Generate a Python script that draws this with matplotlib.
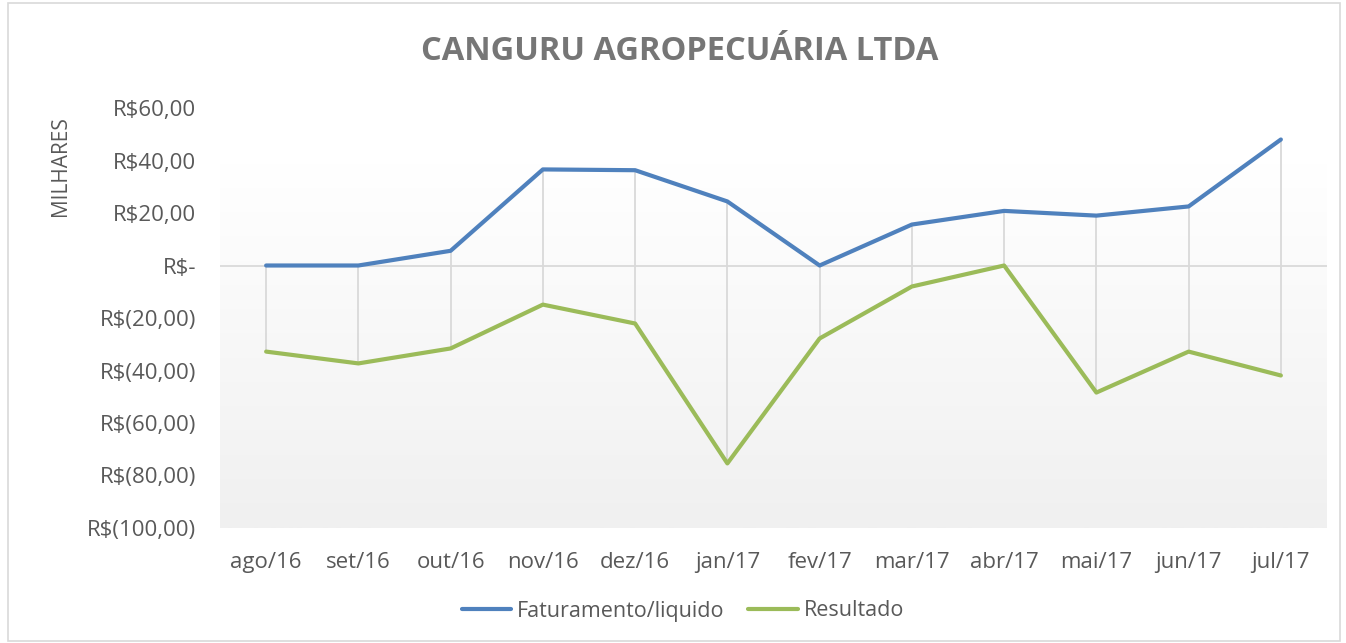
import numpy as np
import matplotlib.pyplot as plt
from matplotlib.colors import LinearSegmentedColormap
from matplotlib.patches import Rectangle

# Dados (em milhares de R$)
meses = ["ago/16", "set/16", "out/16", "nov/16", "dez/16", "jan/17",
         "fev/17", "mar/17", "abr/17", "mai/17", "jun/17", "jul/17"]
faturamento = [0, 0, 5.6, 36.6, 36.3, 24.4, 0, 15.6, 20.8, 19.0, 22.5, 48.0]
resultado = [-32.8, -37.3, -31.6, -14.9, -22.1, -75.4, -27.8, -8.0, 0, -48.4, -32.8, -41.9]

y_ticks = [60, 40, 20, 0, -20, -40, -60, -80, -100]

cinza_texto = "#595959"
plt.rcParams["font.family"] = ["Open Sans", "DejaVu Sans"]

fig = plt.figure(figsize=(13.46, 6.43), dpi=100)
ax = fig.add_axes([220 / 1346, 1 - 528 / 643, 1107 / 1346, 420 / 643])

x = np.arange(len(meses))

# fundo com degradê
cmap = LinearSegmentedColormap.from_list("fundo", ["#ffffff", "#f0f0f0"])
grad = np.linspace(0, 1, 256).reshape(-1, 1)
ax.imshow(grad, cmap=cmap, aspect="auto", extent=[-0.5, 11.5, -100, 39], zorder=0,
          vmin=0, vmax=1, origin="upper")

# linha do zero
ax.axhline(0, color="#d9d9d9", lw=1.3, zorder=1)

# linhas de ligação (máx/mín)
ax.vlines(x, resultado, faturamento, color="#d9d9d9", lw=1.3, zorder=1)

ax.plot(x, faturamento, color="#4f81bd", lw=3.0, label="Faturamento/liquido",
        solid_capstyle="round", solid_joinstyle="round", zorder=3)
ax.plot(x, resultado, color="#9bbb59", lw=3.0, label="Resultado",
        solid_capstyle="round", solid_joinstyle="round", zorder=3)

ax.set_xlim(-0.5, 11.5)
ax.set_ylim(-100, 60)
ax.set_xticks(x)
ax.set_xticklabels(meses)
ax.set_yticks(y_ticks)


def fmt(v):
    if v == 0:
        return "R$-"
    if v < 0:
        return "R$(%d,00)" % abs(v)
    return "R$%d,00" % v


ax.set_yticklabels([fmt(v) for v in y_ticks])
ax.tick_params(axis="both", length=0, labelsize=16, colors=cinza_texto)
ax.tick_params(axis="x", pad=17)
ax.tick_params(axis="y", pad=17)
for s in ax.spines.values():
    s.set_visible(False)

fig.text(60 / 1346, 1 - 166 / 643, "MILHARES", rotation=90, ha="center", va="center",
         fontsize=15, color=cinza_texto)

fig.text(680 / 1346, 1 - 52 / 643, "CANGURU AGROPECUÁRIA LTDA", ha="center", va="center",
         fontsize=23.5, fontweight="bold", color="#767676")

leg = ax.legend(loc="center", bbox_to_anchor=((683 - 220) / 1107, (528 - 611) / 420), ncol=2,
                frameon=False, fontsize=15.5, handlelength=2.3, handletextpad=0.28,
                columnspacing=1.1)
for t in leg.get_texts():
    t.set_color(cinza_texto)

# borda do gráfico
fig.patches.append(Rectangle((8 / 1346, 2 / 643), 1332 / 1346, 638 / 643,
                             transform=fig.transFigure, fill=False,
                             edgecolor="#d9d9d9", lw=1.2))

plt.savefig("out.png", dpi=100)
plt.close()
